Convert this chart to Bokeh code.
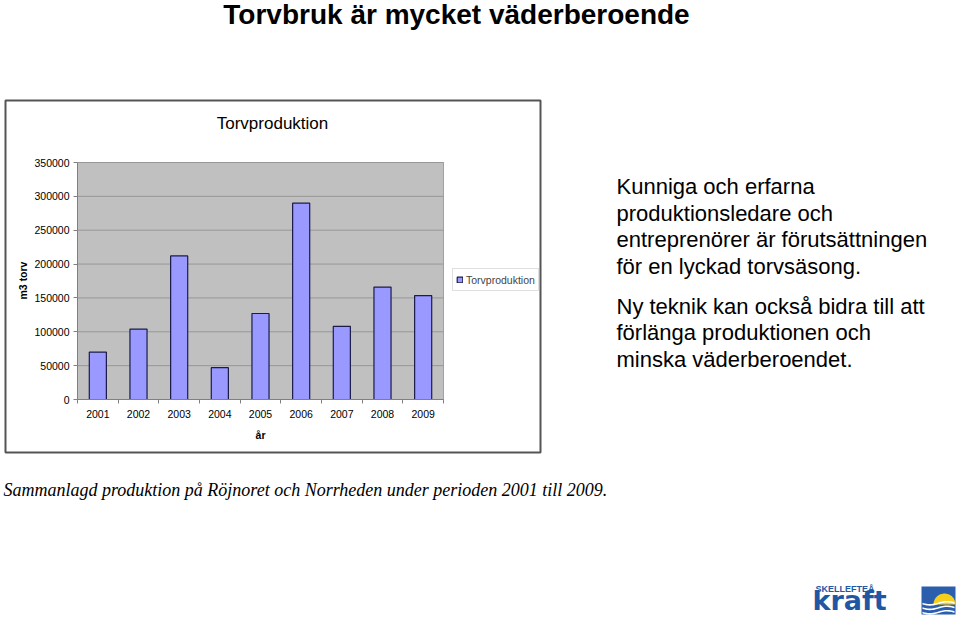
import numpy as np
from bokeh.plotting import figure
from bokeh.models import (Range1d, FixedTicker, Label, Legend, LegendItem,
                          NumeralTickFormatter, BoxAnnotation, PolyAnnotation)
from bokeh.embed import file_html
from bokeh.resources import INLINE

# ---------------- data ----------------
years = ["2001", "2002", "2003", "2004", "2005", "2006", "2007", "2008", "2009"]
production = [70000, 104000, 212000, 47000, 127000, 290000, 108000, 166000, 153500]
y_ticks = [0, 50000, 100000, 150000, 200000, 250000, 300000, 350000]
series_name = "Torvproduktion"

page_title = "Torvbruk är mycket väderberoende"
chart_title = "Torvproduktion"
y_label = "m3 torv"
x_label = "år"
para1 = ["Kunniga och erfarna", "produktionsledare och",
         "entreprenörer är förutsättningen", "för en lyckad torvsäsong."]
para2 = ["Ny teknik kan också bidra till att", "förlänga produktionen och",
         "minska väderberoendet."]
footnote = "Sammanlagd produktion på Röjnoret och Norrheden under perioden 2001 till 2009."
logo_small = "SKELLEFTEÅ"
logo_big = "kraft"

# ---------------- layout constants (page pixels) ----------------
SANS = "Liberation Sans"
W, H = 958, 617
FL, FR, FT, FB = 77, 443, 162, 399          # plot area of the bar chart
n = len(years)
ymax = y_ticks[-1]
kx = n / (FR - FL)                          # data units per pixel
ky = ymax / (FB - FT)

p = figure(width=W, height=H, output_backend="svg", toolbar_location=None,
           x_range=Range1d(-FL * kx, (W - FL) * kx),
           y_range=Range1d(-(H - FB) * ky, FB * ky),
           min_border=0, min_border_left=0, min_border_right=0,
           min_border_top=0, min_border_bottom=0)
p.background_fill_color = "white"
p.border_fill_color = "white"
p.outline_line_color = None
p.xgrid.visible = False
p.ygrid.visible = False


def sx(px):
    return px


def sy(py):
    return H - py


def label(text, x, y, size, style="normal", align="left", font=SANS,
          color="black", angle=0.0):
    p.add_layout(Label(x=sx(x), y=sy(y), x_units="screen", y_units="screen",
                       text=text, text_font=font, text_font_size=size,
                       text_font_style=style, text_align=align,
                       text_baseline="middle", text_color=color, angle=angle))


# chart box
p.add_layout(BoxAnnotation(left=sx(5), right=sx(540), top=sy(100), bottom=sy(452),
                           left_units="screen", right_units="screen",
                           top_units="screen", bottom_units="screen",
                           fill_alpha=0, line_color="#555555", line_alpha=1,
                           line_width=2, level="underlay"))

# plot area
p.add_layout(BoxAnnotation(left=0, right=n, bottom=0, top=ymax,
                           fill_color="#c0c0c0", fill_alpha=1,
                           line_color="#a0a0a0", line_alpha=1, line_width=1,
                           level="image"))
p.segment(x0=[0] * len(y_ticks), x1=[n] * len(y_ticks), y0=y_ticks, y1=y_ticks,
          line_color="#979797", line_width=1, level="underlay")

xs = [i + 0.5 for i in range(n)]
bars = p.vbar(x=xs, top=production, bottom=0, width=0.42,
              fill_color="#9999ff", line_color="#1c1c48", line_width=1.2)

ya = p.yaxis[0]
ya.fixed_location = 0
ya.bounds = (0, ymax)
ya.ticker = FixedTicker(ticks=y_ticks)
ya.formatter = NumeralTickFormatter(format="0")
ya.major_label_text_font = SANS
ya.major_label_text_font_size = "10.5px"
ya.major_label_text_color = "black"
ya.axis_line_color = "#808080"
ya.major_tick_line_color = "#808080"
ya.major_tick_out = 4
ya.major_tick_in = 0
ya.minor_tick_line_color = None
ya.major_label_standoff = 4

xa = p.xaxis[0]
xa.fixed_location = 0
xa.bounds = (0, n)
xa.ticker = FixedTicker(ticks=xs, minor_ticks=list(range(n + 1)))
xa.major_label_overrides = {x: yv for x, yv in zip(xs, years)}
xa.major_label_text_font = SANS
xa.major_label_text_font_size = "10.5px"
xa.major_label_text_color = "black"
xa.axis_line_color = "#808080"
xa.major_tick_out = 0
xa.major_tick_in = 0
xa.minor_tick_line_color = "#808080"
xa.minor_tick_out = 4
xa.minor_tick_in = 0
xa.major_label_standoff = 6

legend = Legend(items=[LegendItem(label=series_name, renderers=[bars])],
                location=(452, sy(291)), margin=0, padding=3, spacing=0,
                glyph_width=7, glyph_height=7, label_standoff=3, label_height=15,
                label_text_font=SANS, label_text_font_size="10.5px",
                border_line_color="#c0c0c0", background_fill_color="white")
p.add_layout(legend, "center")

# texts
label(page_title, 456, 14, "28px", style="bold", align="center")
label(chart_title, 272, 123, "17px", align="center")
label(y_label, 22, 280, "10.5px", style="bold", align="center", angle=np.pi / 2)
label(x_label, 260, 434, "10.5px", style="bold", align="center")
for i, t in enumerate(para1):
    label(t, 616, 186 + i * 26.5, "22px")
for i, t in enumerate(para2):
    label(t, 616, 306 + i * 26.3, "22px")
label(footnote, 3, 489, "18px", style="italic", font="Liberation Serif")

# logo
BLUE = "#1f57a5"
label(logo_small, 815, 588, "9px", style="bold", color=BLUE)
label(logo_big, 812, 600, "27px", style="bold", font="DejaVu Sans", color=BLUE)
ix0, ix1, iy0, iy1 = 921, 955, 586, 614
p.add_layout(BoxAnnotation(left=sx(ix0), right=sx(ix1), top=sy(iy0), bottom=sy(iy1),
                           left_units="screen", right_units="screen",
                           top_units="screen", bottom_units="screen",
                           fill_color="#2b5fae", fill_alpha=1, line_color=None))
ang = np.linspace(np.pi, 2 * np.pi, 30)
cx, cy, rr = 944, 604, 11
p.add_layout(PolyAnnotation(xs=[sx(cx + rr * np.cos(a)) for a in ang],
                            ys=[sy(cy + rr * np.sin(a)) for a in ang],
                            xs_units="screen", ys_units="screen",
                            fill_color="#f6cf1a", fill_alpha=1, line_color=None))
wx = np.linspace(ix0 + 1, ix1 - 1, 25)
for base in (602, 606.5, 611):
    top_y = base + 1.6 * np.sin((wx - ix0) / 34 * 2 * np.pi)
    bx = list(wx) + list(wx[::-1])
    by = list(top_y) + list((top_y + 1.6)[::-1])
    p.add_layout(PolyAnnotation(xs=[sx(v) for v in bx], ys=[sy(v) for v in by],
                                xs_units="screen", ys_units="screen",
                                fill_color="white", fill_alpha=1, line_color=None))

open("out.html", "w").write(file_html(p, INLINE))
